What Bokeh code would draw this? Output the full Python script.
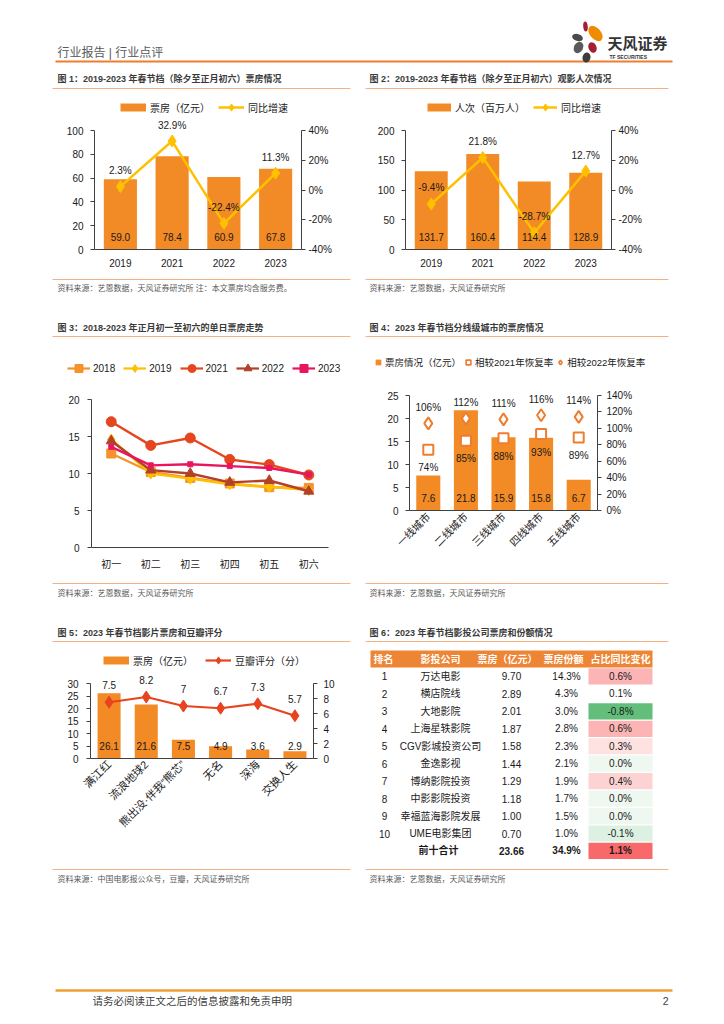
import math
from bokeh.plotting import figure
from bokeh.layouts import column, row
from bokeh.models import (Range1d, FactorRange, LinearAxis, Legend, LegendItem, LabelSet,
                          ColumnDataSource, FixedTicker, PrintfTickFormatter)
from bokeh.core.properties import value
from bokeh.embed import file_html
from bokeh.resources import INLINE

# ---------------- data ----------------
fig1_years = ["2019", "2021", "2022", "2023"]
fig1_box = [59.0, 78.4, 60.9, 67.8]
fig1_yoy = [2.3, 32.9, -22.4, 11.3]
fig1_left_ticks = [0, 20, 40, 60, 80, 100]
fig1_right_ticks = [-40, -20, 0, 20, 40]

fig2_years = ["2019", "2021", "2022", "2023"]
fig2_people = [131.7, 160.4, 114.4, 128.9]
fig2_yoy = [-9.4, 21.8, -28.7, 12.7]
fig2_left_ticks = [0, 50, 100, 150, 200]
fig2_right_ticks = [-40, -20, 0, 20, 40]

fig3_days = ["初一", "初二", "初三", "初四", "初五", "初六"]
fig3_2018 = [12.7, 10.2, 9.4, 8.65, 8.15, 8.05]
fig3_2019 = [14.6, 10.0, 9.3, 8.55, 8.2, 7.75]
fig3_2021 = [17.0, 13.8, 14.8, 11.9, 11.2, 9.8]
fig3_2022 = [14.4, 10.45, 10.0, 8.8, 9.05, 7.6]
fig3_2023 = [13.6, 11.1, 11.25, 11.0, 10.75, 9.85]
fig3_names = ["2018", "2019", "2021", "2022", "2023"]
fig3_ticks = [0, 5, 10, 15, 20]

fig4_tiers = ["一线城市", "二线城市", "三线城市", "四线城市", "五线城市"]
fig4_box = [7.6, 21.8, 15.9, 15.8, 6.7]
fig4_vs2021 = [74, 85, 88, 93, 89]
fig4_vs2022 = [106, 112, 111, 116, 114]
fig4_left_ticks = [0, 5, 10, 15, 20, 25]
fig4_right_ticks = [0, 20, 40, 60, 80, 100, 120, 140]

fig5_films = ["满江红", "流浪地球2", "熊出没·伴我“熊芯”", "无名", "深海", "交换人生"]
fig5_box = [26.1, 21.6, 7.5, 4.9, 3.6, 2.9]
fig5_score = [7.5, 8.2, 7, 6.7, 7.3, 5.7]
fig5_left_ticks = [0, 5, 10, 15, 20, 25, 30]
fig5_right_ticks = [0, 2, 4, 6, 8, 10]

fig6_header = ["排名", "影投公司", "票房（亿元）", "票房份额", "占比同比变化"]
fig6_rank = ["1", "2", "3", "4", "5", "6", "7", "8", "9", "10"]
fig6_company = ["万达电影", "横店院线", "大地影院", "上海星轶影院", "CGV影城投资公司",
                "金逸影视", "博纳影院投资", "中影影院投资", "幸福蓝海影院发展", "UME电影集团"]
fig6_box = [9.70, 2.89, 2.01, 1.87, 1.58, 1.44, 1.29, 1.18, 1.00, 0.70]
fig6_share = [14.3, 4.3, 3.0, 2.8, 2.3, 2.1, 1.9, 1.7, 1.5, 1.0]
fig6_change = [0.6, 0.1, -0.8, 0.6, 0.3, 0.0, 0.4, 0.0, 0.0, -0.1]
fig6_total_label = "前十合计"
fig6_total_box = 23.66
fig6_total_share = 34.9
fig6_total_change = 1.1

# ---------------- style ----------------
ORANGE = "#F28A25"
YELLOW = "#FFC000"
RED = "#E8431F"
HOLLOW = "#ED7D31"
HEADER = "#EE8534"
AXC = "#404040"
TXT = "#1a1a1a"
LINEC = "#F4B183"
FONT = "Liberation Sans, Noto Sans CJK SC"
W = 716
F3_COLS = ["#F5922B", "#FFC000", "#E5461F", "#B2402A", "#E8175D"]
F3_MK = ["square", "diamond", "circle", "triangle", "square"]
F3_SZ = [9, 11, 10, 10, 5]
OFF = -1.0e6   # location far outside every range, for legend-key-only renderers


def no_align(p):
    try:
        p.frame_align = False
    except Exception:
        pass


def deco(y0, y1):
    p = figure(width=W, height=y1 - y0, x_range=Range1d(0, W), y_range=Range1d(y1, y0),
               output_backend="svg", toolbar_location=None, min_border=0,
               x_axis_location=None, y_axis_location=None, outline_line_color=None)
    p.grid.visible = False
    no_align(p)
    return p


def txt(p, x, y, s, size, color="#404040", align="left", bold=False):
    p.text(x=[x], y=[y], text=[s], text_font=value(FONT), text_font_size=size,
           text_color=color, text_align=align, text_baseline="middle",
           text_font_style="bold" if bold else "normal")


def hline(p, x0, x1, y, color=LINEC, w=1):
    p.segment(x0=[x0], y0=[y], x1=[x1], y1=[y], line_color=color, line_width=w)


def ext_range(t0, t1, px0, px1, ftop, fbot):
    """Range whose tick t0 sits at page pixel px0 and t1 at px1, frame ftop..fbot."""
    s = (px0 - px1) / (t1 - t0)
    return Range1d(t0 - (fbot - px0) / s, t0 + (px0 - ftop) / s)


def chart(px0, px1, py0, py1, fl, fr, ft, fb, xr, yr):
    p = figure(width=px1 - px0, height=py1 - py0, x_range=xr, y_range=yr,
               min_border_left=fl - px0, min_border_right=px1 - fr,
               min_border_top=ft - py0, min_border_bottom=py1 - fb,
               output_backend="svg", toolbar_location=None, outline_line_color=None)
    p.grid.visible = False
    no_align(p)
    return p


def style_axis(ax, standoff=6, size="10px", tick=4):
    ax.axis_line_color = AXC
    ax.major_tick_line_color = AXC if tick else None
    ax.major_tick_in = 0
    ax.major_tick_out = tick
    ax.minor_tick_line_color = None
    ax.major_label_text_font = FONT
    ax.major_label_text_font_size = size
    ax.major_label_text_color = TXT
    ax.major_label_standoff = standoff


def y_axes(p, lt, rt, ls, rs, rfmt=None):
    ax = p.yaxis[0]
    ax.ticker = FixedTicker(ticks=lt)
    ax.bounds = (lt[0], lt[-1])
    style_axis(ax, standoff=ls)
    ra = LinearAxis(y_range_name="r", ticker=FixedTicker(ticks=rt), bounds=(rt[0], rt[-1]))
    if rfmt:
        ra.formatter = PrintfTickFormatter(format=rfmt)
    style_axis(ra, standoff=rs)
    p.add_layout(ra, "right")


def legend(p, items, vx, vy, gw, gh, spacing, standoff, size="10px"):
    lg = Legend(items=items, orientation="horizontal", location=(vx, vy),
                border_line_color=None, background_fill_alpha=0.0,
                padding=0, margin=0, spacing=spacing, label_standoff=standoff,
                glyph_width=gw, glyph_height=gh, label_height=gh,
                label_text_font=FONT, label_text_font_size=size, label_text_color=TXT)
    p.add_layout(lg)


def labels(p, src, x, y, text, yoff, rname="default", size="10px"):
    p.add_layout(LabelSet(x=x, y=y, text=text, source=src, y_offset=yoff,
                          y_range_name=rname, text_align="center", text_baseline="middle",
                          text_font=value(FONT), text_font_size=size, text_color=TXT))


def bar_line_chart(px0, px1, fl, fr, cats, bars, yoy, lt, rt, bar_name, lvx, lgw, lsp):
    py0, py1, ft, fb, tp = 96, 276, 96, 249, 130
    p = chart(px0, px1, py0, py1, fl, fr, ft, fb, FactorRange(*cats),
              ext_range(lt[0], lt[-1], fb, tp, ft, fb))
    p.extra_y_ranges = {"r": ext_range(rt[0], rt[-1], fb, tp, ft, fb)}
    src = ColumnDataSource(dict(x=cats, b=bars, y=yoy,
                                bl=[f"{v:.1f}" for v in bars], yl=[f"{v:.1f}%" for v in yoy]))
    p.vbar(x="x", top="b", width=0.64, source=src, fill_color=ORANGE, line_color=None)
    ln = p.line(x="x", y="y", source=src, y_range_name="r", line_color=YELLOW, line_width=2.5)
    mk = p.scatter(x="x", y="y", source=src, y_range_name="r", marker="diamond", size=12,
                   fill_color=YELLOW, line_color=YELLOW)
    key = p.line(x=cats[:2], y=[OFF, OFF], line_color=ORANGE, line_width=8)
    labels(p, src, "x", value(lt[0]), "bl", 13)
    labels(p, src, "x", "y", "yl", 16, "r")
    y_axes(p, lt, rt, 7, 3, "%d%%")
    style_axis(p.xaxis[0], standoff=9, tick=0)
    gh = 18
    legend(p, [LegendItem(label=bar_name, renderers=[key]),
               LegendItem(label="同比增速", renderers=[ln, mk])],
           lvx, (fb - 107) - gh / 2, lgw, gh, lsp, 4)
    return p


# ---------------- band A: header ----------------
pa = deco(0, 96)
txt(pa, 57, 52, "行业报告 | 行业点评", "12px", "#595959")
hline(pa, 55, 672, 61, "#ED7D31", 2)
logo = ColumnDataSource(dict(
    x=[585, 595, 577, 578, 592, 586], y=[26, 33, 37, 47, 47, 57],
    w=[4.5, 11, 11, 9, 8, 8], h=[10, 18, 7, 12, 11, 10],
    a=[0.1, 0.7, -0.3, -0.5, 0.4, -0.2],
    c=["#A31F34", "#F08A00", "#4A4A4A", "#5A5A5A", "#A31F34", "#3C3C3C"]))
pa.ellipse(x="x", y="y", width="w", height="h", angle="a", fill_color="c",
           line_color=None, source=logo)
txt(pa, 607, 43, "天风证券", "15px", "#333333", bold=True)
txt(pa, 609, 56, "TF SECURITIES", "5px", "#333333", bold=True)
txt(pa, 57, 78, "图 1：2019-2023 年春节档（除夕至正月初六）票房情况", "9px", "#3a3a3a", bold=True)
txt(pa, 369, 78, "图 2：2019-2023 年春节档（除夕至正月初六）观影人次情况", "9px", "#3a3a3a", bold=True)
hline(pa, 52, 350, 88)
hline(pa, 365, 668, 88)

# ---------------- band B: fig1, fig2 ----------------
p1 = bar_line_chart(0, 360, 94, 301, fig1_years, fig1_box, fig1_yoy, fig1_left_ticks,
                    fig1_right_ticks, "票房（亿元）", 120 - 94, 26, 8)
p2 = bar_line_chart(360, 716, 405, 611, fig2_years, fig2_people, fig2_yoy, fig2_left_ticks,
                    fig2_right_ticks, "人次（百万人）", 427 - 405, 24, 8)

# ---------------- band C ----------------
C0, C1 = 276, 380
pc = deco(C0, C1)
hline(pc, 52, 350, 279)
hline(pc, 365, 668, 279)
txt(pc, 57, 288, "资料来源：艺恩数据，天风证券研究所  注：本文票房均含服务费。", "8px", "#595959")
txt(pc, 369, 288, "资料来源：艺恩数据，天风证券研究所", "8px", "#595959")
txt(pc, 57, 327, "图 3：2018-2023 年正月初一至初六的单日票房走势", "9px", "#3a3a3a", bold=True)
txt(pc, 369, 327, "图 4：2023 年春节档分线级城市的票房情况", "9px", "#3a3a3a", bold=True)
hline(pc, 52, 350, 336)
hline(pc, 365, 668, 336)
# legend keys for fig3 / fig4 (key renderers sit far outside the visible area)
items3 = []
for name, col, mk, sz in zip(fig3_names, F3_COLS, F3_MK, F3_SZ):
    r1 = pc.line(x=[OFF, OFF + 1], y=[OFF, OFF], line_color=col, line_width=2.2)
    r2 = pc.scatter(x=[OFF], y=[OFF], marker=mk, size=sz, fill_color=col, line_color=col)
    items3.append(LegendItem(label=name, renderers=[r1, r2]))
legend(pc, items3, 67, C1 - 368 - 10, 23, 20, 8, 3)
k1 = pc.scatter(x=[OFF], y=[OFF], marker="square", fill_color=ORANGE, line_color=ORANGE)
k2 = pc.scatter(x=[OFF], y=[OFF], marker="square", fill_color="white", line_color=HOLLOW,
                line_width=1.6)
k3 = pc.scatter(x=[OFF], y=[OFF], marker="diamond", fill_color="white", line_color=HOLLOW,
                line_width=1.6)
legend(pc, [LegendItem(label="票房情况（亿元）", renderers=[k1]),
            LegendItem(label="相较2021年恢复率", renderers=[k2]),
            LegendItem(label="相较2022年恢复率", renderers=[k3])],
       372, C1 - 362 - 9, 12, 18, 1, 1, "9.5px")

# ---------------- band D: fig3 ----------------
D0, D1 = C1, 578
p3 = chart(0, 360, D0, D1, 91, 328, D0, 547, FactorRange(*fig3_days),
           ext_range(fig3_ticks[0], fig3_ticks[-1], 547, 399, D0, 547))
for name, vals, col, mk, sz in zip(fig3_names,
                                   [fig3_2018, fig3_2019, fig3_2021, fig3_2022, fig3_2023],
                                   F3_COLS, F3_MK, F3_SZ):
    p3.line(fig3_days, vals, line_color=col, line_width=2.4)
    p3.scatter(fig3_days, vals, marker=mk, size=sz, fill_color=col, line_color=col)
p3.yaxis[0].ticker = FixedTicker(ticks=fig3_ticks)
p3.yaxis[0].bounds = (fig3_ticks[0], fig3_ticks[-1])
style_axis(p3.yaxis[0], standoff=8)
style_axis(p3.xaxis[0], standoff=11, tick=0)

# ---------------- band D: fig4 ----------------
p4 = chart(360, 716, D0, D1, 409, 597, D0, 510, FactorRange(*fig4_tiers),
           ext_range(fig4_left_ticks[0], fig4_left_ticks[-1], 510, 395, D0, 510))
p4.extra_y_ranges = {"r": ext_range(fig4_right_ticks[0], fig4_right_ticks[-1], 510, 395, D0, 510)}
src4 = ColumnDataSource(dict(x=fig4_tiers, b=fig4_box, a=fig4_vs2021, c=fig4_vs2022,
                             bl=[f"{v:.1f}" for v in fig4_box],
                             al=[f"{v}%" for v in fig4_vs2021],
                             cl=[f"{v}%" for v in fig4_vs2022]))
p4.vbar(x="x", top="b", width=0.64, source=src4, fill_color=ORANGE, line_color=None)
p4.scatter(x="x", y="a", source=src4, y_range_name="r", marker="square", size=10,
           fill_color="white", line_color=HOLLOW, line_width=2)
p4.scatter(x="x", y="c", source=src4, y_range_name="r", marker="diamond", size=12,
           fill_color="white", line_color=HOLLOW, line_width=2)
labels(p4, src4, "x", value(0), "bl", 13)
labels(p4, src4, "x", "a", "al", -18, "r")
labels(p4, src4, "x", "c", "cl", 16, "r")
y_axes(p4, fig4_left_ticks, fig4_right_ticks, 7, 5, "%d%%")
style_axis(p4.xaxis[0], standoff=4, tick=0, size="10.5px")
p4.xaxis[0].major_label_orientation = math.pi / 4

# ---------------- band E ----------------
E0, E1 = D1, 645
pe = deco(E0, E1)
hline(pe, 52, 350, 583)
hline(pe, 365, 668, 583)
txt(pe, 57, 593, "资料来源：艺恩数据，天风证券研究所", "8px", "#595959")
txt(pe, 369, 593, "资料来源：艺恩数据，天风证券研究所", "8px", "#595959")
txt(pe, 57, 632, "图 5：2023 年春节档影片票房和豆瓣评分", "9px", "#3a3a3a", bold=True)
txt(pe, 369, 632, "图 6：2023 年春节档影投公司票房和份额情况", "9px", "#3a3a3a", bold=True)
hline(pe, 52, 350, 641)
hline(pe, 365, 668, 641)

# ---------------- band F: fig5 ----------------
F0, F1 = E1, 864
p5 = chart(0, 360, F0, F1, 90, 313, F0, 758, FactorRange(*fig5_films),
           ext_range(fig5_left_ticks[0], fig5_left_ticks[-1], 758, 683, F0, 758))
p5.extra_y_ranges = {"r": ext_range(fig5_right_ticks[0], fig5_right_ticks[-1], 758, 683, F0, 758)}
src5 = ColumnDataSource(dict(x=fig5_films, b=fig5_box, s=fig5_score,
                             bl=[f"{v:.1f}" for v in fig5_box],
                             sl=[f"{v:g}" for v in fig5_score]))
p5.vbar(x="x", top="b", width=0.62, source=src5, fill_color=ORANGE, line_color=None)
ln5 = p5.line(x="x", y="s", source=src5, y_range_name="r", line_color=RED, line_width=2.2)
mk5 = p5.scatter(x="x", y="s", source=src5, y_range_name="r", marker="diamond", size=12,
                 fill_color=RED, line_color=RED)
key5 = p5.line(x=fig5_films[:2], y=[OFF, OFF], line_color=ORANGE, line_width=8)
labels(p5, src5, "x", value(0), "bl", 13)
labels(p5, src5, "x", "s", "sl", 17, "r")
y_axes(p5, fig5_left_ticks, fig5_right_ticks, 8, 6)
style_axis(p5.xaxis[0], standoff=4, tick=0, size="11px")
p5.xaxis[0].major_label_orientation = math.pi / 4
legend(p5, [LegendItem(label="票房（亿元）", renderers=[key5]),
            LegendItem(label="豆瓣评分（分）", renderers=[ln5, mk5])],
       103 - 90, (758 - 660) - 9, 26, 18, 12, 4)

# ---------------- band F: table ----------------
ROW0, ROWH = 658.5, 17.45
p6 = figure(width=356, height=F1 - F0, x_range=Range1d(360, 716),
            y_range=Range1d((F1 - ROW0) / ROWH, (F0 - ROW0) / ROWH),
            output_backend="svg", toolbar_location=None, min_border=0,
            x_axis_location=None, y_axis_location=None, outline_line_color=None)
p6.grid.visible = False
no_align(p6)

allchg = fig6_change + [fig6_total_change]
srt = sorted(allchg)
vmin, vmax, vmid = srt[0], srt[-1], srt[len(srt) // 2]


def scale_color(v):
    lo, mid, hi = (0x63, 0xBE, 0x7B), (255, 255, 255), (0xF8, 0x69, 0x6B)
    if v <= vmid:
        t, end = (vmid - v) / (vmid - vmin), lo
    else:
        t, end = (v - vmid) / (vmax - vmid), hi
    c = [round(mid[i] + (end[i] - mid[i]) * t) for i in range(3)]
    return "#%02X%02X%02X" % tuple(c)


rows = list(range(1, len(fig6_rank) + 2))
p6.rect(x=[511], y=[0], width=[282], height=[0.98], fill_color=HEADER, line_color=None)
p6.rect(x=[620] * len(rows), y=rows, width=64, height=0.93,
        fill_color=[scale_color(v) for v in allchg], line_color=None)
col_x = [383, 440, 507, 563, 620]
p6.text(x=col_x, y=[0] * 5, text=fig6_header, text_font=value(FONT), text_font_size="10px",
        text_color="white", text_font_style="bold", text_align="center", text_baseline="middle")
body = ColumnDataSource(dict(
    y=rows[:-1], rank=fig6_rank, comp=fig6_company,
    box=[f"{v:.2f}" for v in fig6_box], share=[f"{v:.1f}%" for v in fig6_share],
    chg=[f"{v:.1f}%" for v in fig6_change]))
for cx, field in zip([384, 440, 511, 566, 620], ["rank", "comp", "box", "share", "chg"]):
    p6.text(x=cx, y="y", text=field, source=body, text_font=value(FONT), text_font_size="10px",
            text_color=TXT, text_align="center", text_baseline="middle")
tot = [fig6_total_label, f"{fig6_total_box:.2f}", f"{fig6_total_share:.1f}%", f"{fig6_total_change:.1f}%"]
p6.text(x=[438, 511, 566, 620], y=[rows[-1]] * 4, text=tot, text_font=value(FONT),
        text_font_size="10px", text_color=TXT, text_font_style="bold",
        text_align="center", text_baseline="middle")

# ---------------- band G: footer ----------------
pg = deco(F1, 1016)
hline(pg, 52, 350, 869)
hline(pg, 365, 668, 869)
txt(pg, 57, 879, "资料来源：中国电影报公众号，豆瓣，天风证券研究所", "8px", "#595959")
txt(pg, 369, 879, "资料来源：艺恩数据，天风证券研究所", "8px", "#595959")
hline(pg, 55, 672, 990, "#F0A030", 2.5)
txt(pg, 92, 1000, "请务必阅读正文之后的信息披露和免责申明", "10.5px", "#404040")
txt(pg, 668, 1000, "2", "10.5px", "#404040", align="right")

layout = column(pa, row(p1, p2), pc, row(p3, p4), pe, row(p5, p6), pg)
open("out.html", "w").write(file_html(layout, INLINE))
